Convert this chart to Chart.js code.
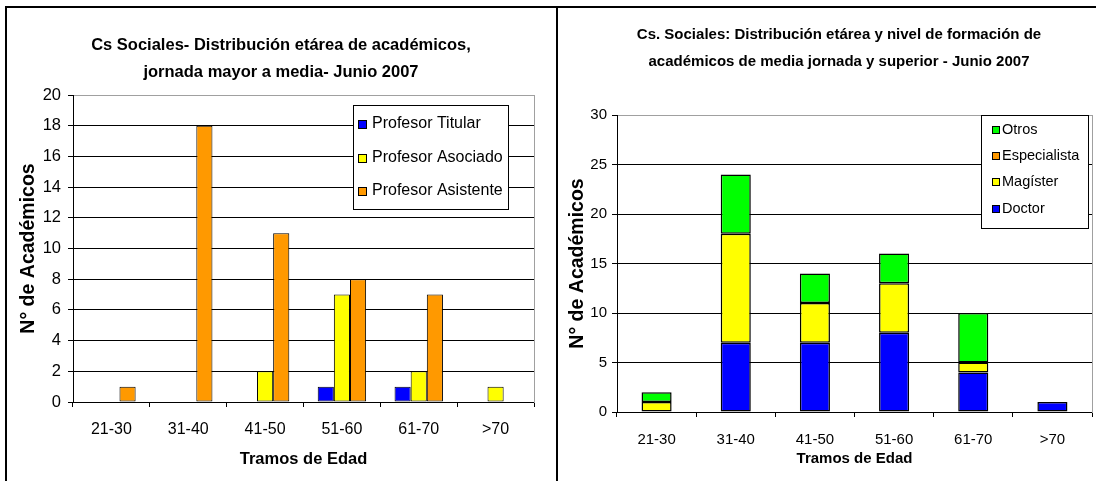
<!DOCTYPE html>
<html lang="es">
<head>
<meta charset="utf-8">
<title>Cs Sociales: distribución etárea de académicos</title>
<script src="https://cdn.jsdelivr.net/npm/chart.js@4.4.1/dist/chart.umd.min.js"></script>
<style>
  html, body { margin: 0; padding: 0; background: #fff; }
  body { position: relative; width: 1096px; height: 481px; overflow: hidden; }
  #frame { position: absolute; left: 5px; top: 6px; width: 1200px; height: 500px; border-top: 2px solid #000; border-left: 2px solid #000; }
  #divider { position: absolute; left: 556px; top: 6px; width: 2px; height: 500px; background: #000; }
  canvas { position: absolute; top: 9px; }
  #left { left: 7px; }
  #right { left: 559px; }
</style>
</head>
<body>
<div id="frame"></div>
<div id="divider"></div>
<canvas id="left" width="548" height="472"></canvas>
<canvas id="right" width="560" height="472"></canvas>
<script>
const ageGroups = ['21-30', '31-40', '41-50', '51-60', '61-70', '>70'];

// left: jornada mayor a media, by rank
const titular   = [0, 0, 0, 1, 1, 0];
const asociado  = [0, 0, 2, 7, 2, 1];
const asistente = [1, 18, 11, 8, 7, 0];
const leftTicks = { min: 0, max: 20, step: 2 };

// right: media jornada y superior, by degree
const doctor       = [0, 7, 7, 8, 4, 1];
const magister     = [1, 11, 4, 5, 1, 0];
const especialista = [0, 0, 0, 0, 0, 0];
const otros        = [1, 6, 3, 3, 5, 0];
const rightTicks = { min: 0, max: 30, step: 5 };

const BLUE = '#0000ff', YELLOW = '#ffff00', ORANGE = '#ff9900', GREEN = '#00ff00';
const SANS = '"Liberation Sans", Arial, sans-serif';

Chart.defaults.font.family = SANS;
Chart.defaults.color = '#000';

// Excel-style legend: white box with a black frame, drawn inside the plot
const boxLegend = {
  id: 'boxLegend',
  afterDraw(chart, args, o) {
    const ctx = chart.ctx;
    const items = chart.data.datasets.map(d => ({ text: d.label, color: d.backgroundColor }));
    if (o.reverse) items.reverse();
    ctx.save();
    ctx.fillStyle = '#fff';
    ctx.fillRect(o.x, o.y, o.w, o.h);
    ctx.strokeStyle = '#000';
    ctx.lineWidth = 1;
    ctx.strokeRect(o.x + 0.5, o.y + 0.5, o.w, o.h);
    ctx.font = o.font;
    ctx.textBaseline = 'middle';
    items.forEach((it, i) => {
      const cy = o.rows[i];
      const top = Math.round(cy - o.swatch / 2);
      ctx.fillStyle = it.color;
      ctx.fillRect(o.swatchX, top, o.swatch, o.swatch);
      ctx.strokeRect(o.swatchX + 0.5, top + 0.5, o.swatch - 1, o.swatch - 1);
      ctx.fillStyle = '#000';
      ctx.fillText(it.text, o.textX, cy);
    });
    ctx.restore();
  }
};

function valueAxis(t, o) {
  return {
    min: t.min, max: t.max,
    stacked: o.stacked,
    ticks: { stepSize: t.step, font: { size: o.tickSize }, padding: o.tickPad },
    grid: {
      color: c => (c.tick && c.tick.value === t.max ? '#a0a0a0' : '#000'),
      tickColor: '#000', tickLength: 5, lineWidth: 1
    },
    border: { display: true, color: '#000', width: 1 },
    title: {
      display: true, text: 'N° de Académicos',
      font: { size: 19.5, weight: 'bold' },
      padding: { top: o.titlePad, bottom: 0 }
    },
    afterFit: s => { s.width = o.width; }
  };
}

// right-hand axis only used as the grey plot frame
function frameAxis(t, width) {
  return {
    position: 'right', min: t.min, max: t.max,
    ticks: { display: false },
    grid: { drawOnChartArea: false, drawTicks: false },
    border: { display: true, color: '#a0a0a0', width: 1 },
    afterFit: s => { s.width = width; }
  };
}

function categoryAxis(o) {
  return {
    stacked: o.stacked,
    ticks: { font: { size: o.tickSize }, padding: o.tickPad, maxRotation: 0, autoSkip: false },
    grid: { drawOnChartArea: false, tickLength: 5, tickColor: '#000', offset: true },
    border: { display: true, color: '#000', width: 1 },
    title: {
      display: true, text: 'Tramos de Edad',
      font: { size: o.titleSize, weight: 'bold' },
      padding: { top: 0, bottom: o.titlePad }
    },
    afterFit: s => { s.height = o.height; }
  };
}

new Chart(document.getElementById('left'), {
  type: 'bar',
  data: {
    labels: ageGroups,
    datasets: [
      { label: 'Profesor Titular', data: titular, backgroundColor: BLUE },
      { label: 'Profesor Asociado', data: asociado, backgroundColor: YELLOW },
      { label: 'Profesor Asistente', data: asistente, backgroundColor: ORANGE }
    ]
  },
  options: {
    responsive: false,
    animation: false,
    layout: { padding: 0 },
    datasets: {
      bar: {
        borderColor: '#000', borderWidth: 1, borderSkipped: false, inflateAmount: 0,
        categoryPercentage: 0.63, barPercentage: 1
      }
    },
    plugins: {
      legend: { display: false },
      tooltip: { enabled: false },
      title: {
        display: true,
        text: ['Cs Sociales- Distribución etárea de académicos,', 'jornada mayor a media- Junio 2007'],
        color: '#000',
        font: { size: 16.5, weight: 'bold', lineHeight: '26.5px' },
        padding: { top: 23.5, bottom: 9.5 }
      },
      boxLegend: {
        x: 346, y: 96, w: 155, h: 104,
        rows: [115, 149, 182], swatch: 9, swatchX: 351, textX: 365,
        font: '16px ' + SANS, reverse: false
      }
    },
    scales: {
      x: categoryAxis({ stacked: false, tickSize: 16, tickPad: 13, titleSize: 16.5, titlePad: 12, height: 79 }),
      y: valueAxis(leftTicks, { stacked: false, tickSize: 16.5, tickPad: 7, titlePad: 9.5, width: 66 }),
      y2: frameAxis(leftTicks, 21)
    }
  },
  plugins: [boxLegend]
});

new Chart(document.getElementById('right'), {
  type: 'bar',
  data: {
    labels: ageGroups,
    datasets: [
      { label: 'Doctor', data: doctor, backgroundColor: BLUE },
      { label: 'Magíster', data: magister, backgroundColor: YELLOW },
      { label: 'Especialista', data: especialista, backgroundColor: ORANGE },
      { label: 'Otros', data: otros, backgroundColor: GREEN }
    ]
  },
  options: {
    responsive: false,
    animation: false,
    layout: { padding: 0 },
    datasets: {
      bar: {
        borderColor: '#000', borderWidth: 1.5, borderSkipped: false, inflateAmount: 0,
        categoryPercentage: 1, barPercentage: 0.38
      }
    },
    plugins: {
      legend: { display: false },
      tooltip: { enabled: false },
      title: {
        display: true,
        text: ['Cs. Sociales: Distribución etárea y nivel de formación de', 'académicos de media jornada y superior - Junio 2007'],
        color: '#000',
        font: { size: 15, weight: 'bold', lineHeight: '27.5px' },
        padding: { top: 12, bottom: 39 }
      },
      boxLegend: {
        x: 422, y: 106, w: 107, h: 113,
        rows: [120.5, 147, 173, 199.5], swatch: 8, swatchX: 433, textX: 443,
        font: '14.5px ' + SANS, reverse: true
      }
    },
    scales: {
      x: categoryAxis({ stacked: true, tickSize: 15, tickPad: 14, titleSize: 15, titlePad: 13, height: 69 }),
      y: valueAxis(rightTicks, { stacked: true, tickSize: 15, tickPad: 5, titlePad: 7.3, width: 58 }),
      y2: frameAxis(rightTicks, 27)
    }
  },
  plugins: [boxLegend]
});
</script>
</body>
</html>
